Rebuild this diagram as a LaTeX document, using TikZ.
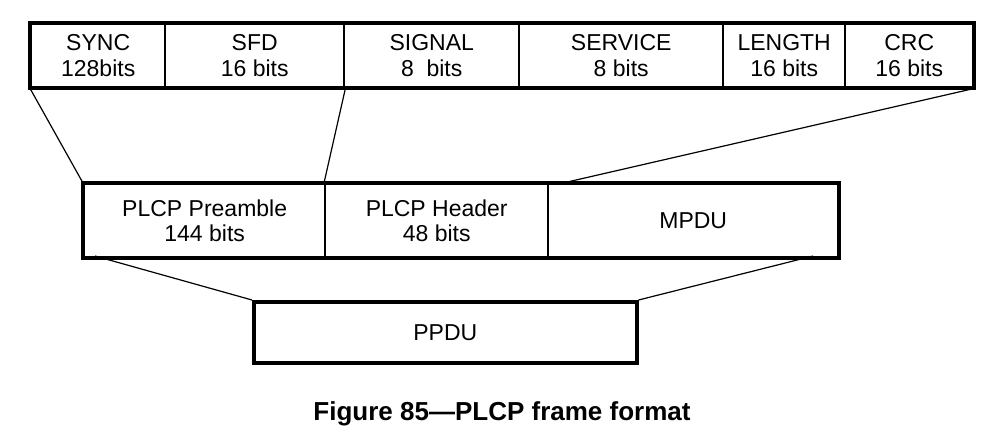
\documentclass[tikz,border=0pt]{standalone}
\usepackage{fontspec}
\setmainfont{Liberation Sans}
\begin{document}
\begin{tikzpicture}[x=1pt,y=-1pt,
  field/.style={draw,rectangle,line width=2.4pt,inner sep=0pt,anchor=north west,
    align=center,font=\fontsize{23}{25.5}\selectfont},
  frame/.style={line width=3.6pt},
  zoomline/.style={line width=1.2pt}]
  \useasboundingbox (0,0) rectangle (993,446);
  % PLCP header and preamble fields
  \node[field,minimum width=134pt,minimum height=63pt] (sync)    at (30,23)  {SYNC\\128bits};
  \node[field,minimum width=179pt,minimum height=63pt] (sfd)     at (164,23) {SFD\\16 bits};
  \node[field,minimum width=175pt,minimum height=63pt] (signal)  at (343,23) {SIGNAL\\8\ \ bits};
  \node[field,minimum width=204pt,minimum height=63pt] (service) at (518,23) {SERVICE\\8 bits};
  \node[field,minimum width=122pt,minimum height=63pt] (length)  at (722,23) {LENGTH\\16 bits};
  \node[field,minimum width=128pt,minimum height=63pt] (crc)     at (844,23) {CRC\\16 bits};
  \draw[frame] (sync.north west) rectangle (crc.south east);
  % PLCP frame
  \node[field,minimum width=241pt,minimum height=73pt] (preamble) at (83,183)  {PLCP Preamble\\144 bits};
  \node[field,minimum width=223pt,minimum height=73pt] (header)   at (324,183) {PLCP Header\\48 bits};
  \node[field,minimum width=290pt,minimum height=73pt] (mpdu)     at (547,183) {MPDU};
  \draw[frame] (preamble.north west) rectangle (mpdu.south east);
  % PPDU
  \node[field,frame,minimum width=383pt,minimum height=61pt] (ppdu) at (252,300) {PPDU};
  %\node[field] (ppdu) at (252,300) {PPDU};
  \coordinate (mpdutop) at (563,183);
  \coordinate (prebot) at (95,256);
  \coordinate (mpdubot) at (813,256);
  \draw[zoomline] (sync.south west) -- (preamble.north west);
  \draw[zoomline] (sfd.south east) -- (header.north west);
  \draw[zoomline] (crc.south east) -- (mpdutop);
  \draw[zoomline] (prebot) -- (ppdu.north west);
  \draw[zoomline] (mpdubot) -- (ppdu.north east);
  \node[anchor=base,font=\bfseries\fontsize{26}{30}\selectfont] (caption) at (502,420)
    {Figure 85---PLCP frame format};
\end{tikzpicture}
\end{document}
